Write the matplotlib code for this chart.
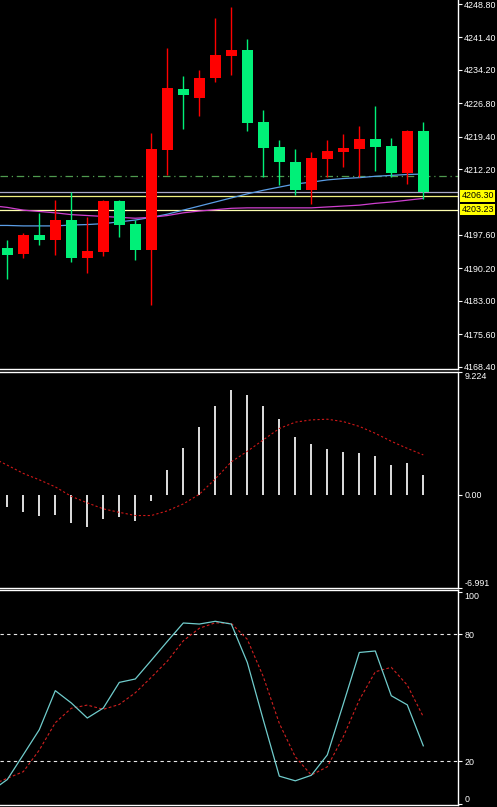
import numpy as np
import matplotlib
matplotlib.use("Agg")
import matplotlib.pyplot as plt
import matplotlib.transforms as mtransforms

plt.rcParams["font.family"] = ["Liberation Sans", "DejaVu Sans"]

# ---- price candles (oldest -> newest) ----
opens  = [4194.6, 4193.4, 4197.6, 4196.5, 4200.9, 4192.4, 4193.9, 4205.1, 4200.0, 4194.2,
          4216.4, 4229.9, 4228.0, 4232.5, 4237.3, 4238.6, 4222.6, 4217.2, 4213.7, 4207.6,
          4214.4, 4216.0, 4216.6, 4218.9, 4217.3, 4211.3, 4220.6]
highs  = [4196.5, 4198.1, 4202.4, 4205.3, 4207.2, 4201.6, 4205.4, 4205.4, 4200.9, 4220.3,
          4239.0, 4232.8, 4234.2, 4245.6, 4248.1, 4241.0, 4225.3, 4218.6, 4216.6, 4215.9,
          4218.6, 4220.0, 4221.8, 4226.2, 4219.2, 4220.8, 4222.6]
lows   = [4187.9, 4192.4, 4195.4, 4193.2, 4191.7, 4189.1, 4193.0, 4197.1, 4192.0, 4182.1,
          4210.9, 4221.1, 4224.0, 4231.6, 4233.1, 4220.7, 4210.5, 4208.7, 4206.4, 4204.4,
          4210.5, 4212.7, 4210.5, 4211.8, 4210.5, 4208.8, 4205.6]
closes = [4193.2, 4197.6, 4196.5, 4200.9, 4192.4, 4194.1, 4205.2, 4199.8, 4194.2, 4216.6,
          4230.1, 4228.6, 4232.5, 4237.5, 4238.6, 4222.4, 4216.8, 4213.8, 4207.6, 4214.7,
          4216.2, 4216.9, 4218.9, 4217.0, 4211.3, 4220.6, 4207.2]

# moving averages (first value belongs to the bar just left of the window)
ma_fast = [4199.7, 4199.7, 4199.6, 4199.6, 4199.6, 4199.8, 4199.9, 4200.1, 4200.5, 4200.9,
           4201.5, 4202.2, 4203.1, 4204.0, 4204.9, 4205.8, 4206.7, 4207.5, 4208.2, 4208.9,
           4209.3, 4209.8, 4210.1, 4210.3, 4210.6, 4210.8, 4211.0, 4211.1]
ma_slow = [4204.1, 4203.7, 4203.1, 4202.8, 4202.5, 4202.1, 4201.9, 4201.7, 4201.5, 4201.3,
           4201.5, 4201.9, 4202.5, 4202.9, 4203.2, 4203.5, 4203.6, 4203.6, 4203.6, 4203.6,
           4203.6, 4203.8, 4204.0, 4204.2, 4204.6, 4204.9, 4205.3, 4205.7]

# horizontal levels
level_dashdot = 4210.66
level_lines = [4206.30, 4203.23]
price_ticks = [4248.80, 4241.40, 4234.20, 4226.80, 4219.40, 4212.20,
               4197.60, 4190.20, 4183.00, 4175.60, 4168.40]

# ---- MACD ----
macd_hist = [-0.88, -1.25, -1.55, -1.50, -2.08, -2.38, -1.80, -1.63, -1.93, -0.45,
             1.88, 3.55, 5.13, 6.70, 7.88, 7.53, 6.70, 5.71, 4.38, 3.83,
             3.45, 3.25, 3.18, 2.95, 2.25, 2.43, 1.50]
macd_signal = [2.83, 2.23, 1.61, 1.13, 0.60, -0.11, -0.60, -1.05, -1.31, -1.55,
               -1.55, -1.20, -0.68, 0.04, 1.20, 2.48, 3.27, 4.13, 4.98, 5.46,
               5.63, 5.68, 5.50, 5.14, 4.62, 4.02, 3.49, 3.00]
macd_max, macd_min = 9.224, -6.991

# ---- Stochastic ----
stoch_k = [6.0, 11.4, 23.1, 34.9, 53.3, 47.5, 40.4, 45.1, 57.2, 58.8,
           67.6, 76.5, 85.2, 84.7, 86.0, 84.7, 66.6, 39.5, 13.0, 10.8,
           13.4, 23.0, 47.0, 71.3, 72.0, 50.9, 46.6, 27.3]
stoch_d = [8.8, 12.0, 15.1, 25.3, 38.2, 45.0, 46.5, 44.5, 46.8, 52.3,
           59.6, 67.2, 76.8, 82.7, 85.3, 85.0, 77.5, 59.9, 37.9, 22.1,
           13.5, 17.4, 31.6, 48.9, 62.2, 64.3, 55.9, 41.0]

UP = "#ff0000"
DOWN = "#00f078"
W, H = 497, 807
AX_RIGHT = 458
FS = 6.4

fig = plt.figure(figsize=(W / 100, H / 100), dpi=100, facecolor="black")


def panel(top, bottom):
    ax = fig.add_axes([0, 1 - bottom / H, AX_RIGHT / W, (bottom - top) / H])
    ax.set_facecolor("black")
    for s in ax.spines.values():
        s.set_color("white")
        s.set_linewidth(1.0)
    ax.spines["left"].set_visible(False)
    ax.set_xticks([])
    ax.yaxis.tick_right()
    ax.tick_params(axis="y", colors="white", length=3, width=0.8, pad=1.5,
                   labelsize=FS, labelcolor="white")
    return ax


n = len(opens)
x = np.arange(n)
xl = np.arange(-1, n)
xlim = (-7.3 / 16, (AX_RIGHT - 7.3) / 16)

# ================= price panel =================
ax1 = panel(0, 369)
ax1.spines["top"].set_visible(False)
ax1.set_xlim(*xlim)
ax1.set_ylim(4167.87, 4249.69)

ax1.axhline(level_dashdot, color="#4f9a4f", lw=0.9, ls=(0, (6, 3, 1, 3)), zorder=1)
ax1.axhline(closes[-1], color="#a8a8c8", lw=0.9, zorder=1)
ax1.axhline(level_lines[0], color="#f0f080", lw=0.9, zorder=1)
ax1.axhline(level_lines[1], color="#ffffb0", lw=0.9, zorder=1)

ax1.plot(xl, ma_fast, color="#5b9ee6", lw=0.9, zorder=2)
ax1.plot(xl, ma_slow, color="#d040d0", lw=0.9, zorder=2)

o = np.array(opens); c = np.array(closes)
colors = [UP if cc >= oo else DOWN for oo, cc in zip(o, c)]
ax1.vlines(x, lows, highs, colors=colors, lw=1.0, zorder=3)
ax1.bar(x, np.maximum(np.abs(c - o), 0.25), bottom=np.minimum(o, c), width=0.69,
        color=colors, linewidth=0, zorder=4)

ax1.set_yticks(price_ticks)
ax1.set_yticklabels([f"{t:.2f}" for t in price_ticks])

trans1 = mtransforms.blended_transform_factory(ax1.transAxes, ax1.transData)
for lv in level_lines:
    ax1.text(1.008, lv, f"{lv:.2f}", transform=trans1, fontsize=FS, color="black",
             va="center", ha="left", clip_on=False, zorder=10,
             bbox=dict(boxstyle="square,pad=0.15", fc="#ffff00", ec="none"))

# ================= MACD panel =================
ax2 = panel(372, 588)
ax2.set_xlim(*xlim)
ax2.set_ylim(macd_min, macd_max)
ax2.bar(x, macd_hist, width=0.13, color="#d8d8d8", linewidth=0, zorder=2)
ax2.plot(xl, macd_signal, color="#d01818", lw=0.8, ls=(0, (2, 2)), zorder=3)
ax2.set_yticks([macd_max, 0.0, macd_min])
ax2.set_yticklabels([f"{macd_max:.3f}", "0.00", f"{macd_min:.3f}"])
lbls = ax2.get_yticklabels()
lbls[0].set_va("top")
lbls[2].set_va("bottom")

# ================= Stochastic panel =================
ax3 = panel(590, 805)
ax3.set_xlim(*xlim)
ax3.set_ylim(-0.6, 100.75)
for lv in (80, 20):
    ax3.axhline(lv, color="#e8e8e8", lw=0.8, ls=(0, (3, 3)), zorder=1)
ax3.plot(xl, stoch_d, color="#d02020", lw=0.8, ls=(0, (2.5, 2)), zorder=2)
ax3.plot(xl, stoch_k, color="#70cccc", lw=0.9, zorder=3)
ax3.set_yticks([100, 80, 20, 0])
ax3.set_yticklabels(["100", "80", "20", "0"])
lbls = ax3.get_yticklabels()
lbls[0].set_va("top")
lbls[3].set_va("bottom")

fig.savefig("out.png", dpi=100, facecolor="black")
